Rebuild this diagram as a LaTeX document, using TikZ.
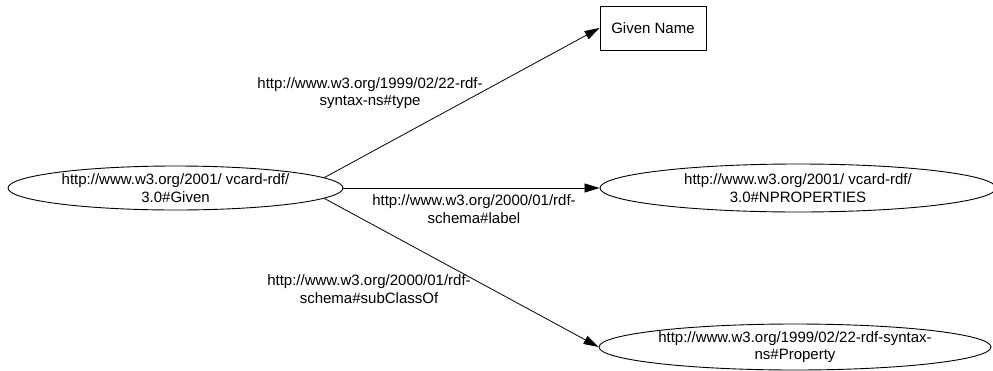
\documentclass[tikz,border=0pt]{standalone}
\usepackage{fontspec}
\setmainfont{Liberation Sans}
\usetikzlibrary{shapes.geometric,arrows.meta}
\begin{document}
\begin{tikzpicture}[x=1pt,y=-1pt,
  every node/.style={font=\fontsize{15}{17.5}\selectfont, align=center, inner sep=0pt},
  resource/.style={draw, ellipse, line width=0.9pt},
  literal/.style={draw, rectangle, line width=0.8pt},
  rel/.style={line width=0.8pt, -{Triangle[length=15pt,width=9pt]}},
  edgelabel/.style={}
]
\fill[white] (0,0) rectangle (993,370);
\useasboundingbox (0,0) rectangle (993,370);

% nodes
\node[resource, minimum width=335pt, minimum height=44pt] (given) at (175.5,188)
  {http://www.w3.org/2001/ vcard-rdf/\\3.0\#Given};
\node[literal, minimum width=106pt, minimum height=44pt] (gname) at (653,28)
  {Given Name};
\node[resource, minimum width=396pt, minimum height=48pt] (nprop) at (798,188)
  {http://www.w3.org/2001/ vcard-rdf/\\3.0\#NPROPERTIES};
\node[resource, minimum width=392pt, minimum height=46pt] (prop) at (795,347)
  {http://www.w3.org/1999/02/22-rdf-syntax-\\ns\#Property};

% connectors
\draw[rel] (given.4.5) -- (gname.west);
\draw[rel] (given.east) -- (nprop.west);
\draw[rel] (given.-4.5) -- (prop.west);

% edge labels
\node[edgelabel] (ltype) at (370,93) {http://www.w3.org/1999/02/22-rdf-\\syntax-ns\#type};
\node[edgelabel] (llabel) at (474,209) {http://www.w3.org/2000/01/rdf-\\schema\#label};
\node[edgelabel] (lsub) at (369,289) {http://www.w3.org/2000/01/rdf-\\schema\#subClassOf};
\end{tikzpicture}
\end{document}
